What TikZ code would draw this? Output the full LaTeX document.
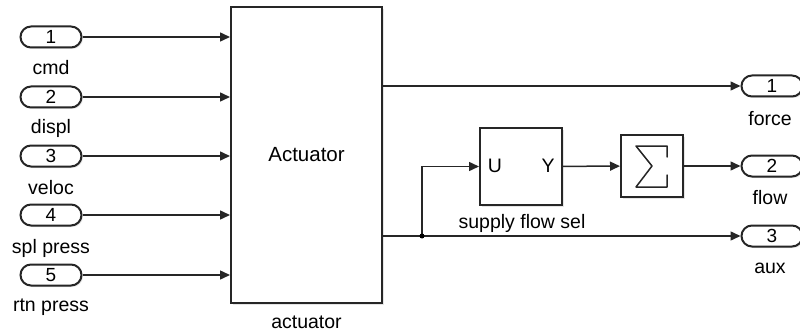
\documentclass[tikz,border=0pt]{standalone}
\usepackage{fontspec}
\setmainfont{Liberation Sans}
\usetikzlibrary{arrows.meta,shadows}

\begin{document}
\begin{tikzpicture}[x=1pt,y=-1pt,line width=1.5pt,draw=black!85,
  port/.style={draw,line width=2pt,rounded corners=10.5pt,fill=white,minimum width=61pt,minimum height=21pt,inner sep=0pt,
    drop shadow={shadow xshift=1.5pt,shadow yshift=-1.5pt,fill=black!20},font=\fontsize{19}{20}\selectfont},
  blk/.style={draw,line width=2pt,fill=white,inner sep=0pt,
    drop shadow={shadow xshift=2pt,shadow yshift=-2pt,fill=black!20}},
  lbl/.style={font=\fontsize{19.5}{22}\selectfont,inner sep=0pt},
  sig/.style={-{Triangle[length=10pt,width=9pt]}}]
\useasboundingbox (0,0) rectangle (800,334);

% inports
\node[port] (i1) at (51,37) {1};
\node[port] (i2) at (51,97) {2};
\node[port] (i3) at (51,156) {3};
\node[port] (i4) at (51,215) {4};
\node[port] (i5) at (51,275) {5};
\node[lbl] (l1) at (51,68) {cmd};
\node[lbl] (l2) at (51,128) {displ};
\node[lbl] (l3) at (51,188) {veloc};
\node[lbl] (l4) at (51,248) {spl press};
\node[lbl] (l5) at (51,307) {rtn press};

% blocks
\node[blk,minimum width=151pt,minimum height=296pt,font=\fontsize{20.5}{22}\selectfont] (act) at (306.5,155) {Actuator};
\node[lbl] (actl) at (306.5,322) {actuator};
\node[blk,minimum width=82pt,minimum height=77pt] (sel) at (521,166.5) {};
\node[lbl] (u) at (495,166) {U};
\node[lbl] (y) at (548,166) {Y};
\node[lbl] (sell) at (522,223) {supply flow sel};
\node[blk,minimum width=62pt,minimum height=62pt] (sum) at (652,166) {};
\draw[shift={(sum.center)},line cap=round,line join=round] (15,-9) -- (15,-20) -- (-16,-20) -- (0,0) -- (-16,21) -- (15,21) -- (15,9);

% outports
\node[port] (o1) at (772,86) {1};
\node[port] (o2) at (772,166) {2};
\node[port] (o3) at (772,236) {3};
\node[lbl] (m1) at (770,119) {force};
\node[lbl] (m2) at (770,198) {flow};
\node[lbl] (m3) at (770,268) {aux};

% signals
\foreach \i in {1,...,5}
  \draw[sig] (i\i) -- (i\i -| act.west);
\coordinate (a1) at (act.east |- o1);
\coordinate (a2) at (act.east |- o3);
\coordinate (j) at (422,236);
\draw[sig] (a1) -- (o1);
\draw[sig] (a2) -- (o3);
\draw[sig] (j) -- (j |- sel) -- (sel);
\fill (j) circle (2.5pt);
\draw[sig] (sel) -- (sum);
\draw[sig] (sum) -- (o2);
\end{tikzpicture}
\end{document}
